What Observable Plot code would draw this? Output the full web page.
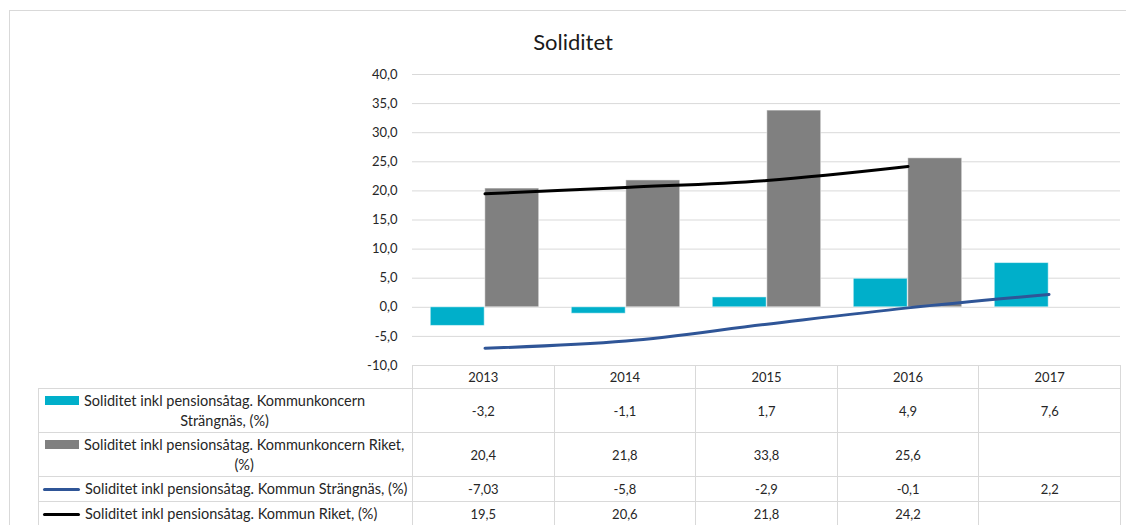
<!DOCTYPE html>
<html>
<head>
<meta charset="utf-8">
<script src="https://cdn.jsdelivr.net/npm/d3@7"></script>
<script src="https://cdn.jsdelivr.net/npm/@observablehq/plot@0.6"></script>
<style>
  html, body { margin: 0; padding: 0; background: #fff; }
  body { width: 1126px; height: 525px; overflow: hidden; position: relative; font-family: Lato, "Open Sans", sans-serif; color: #262626; }
  #frame { position: absolute; left: 9px; top: 10px; width: 1140px; height: 540px; border: 1px solid #d9d9d9; box-sizing: border-box; }
  #title { position: absolute; left: 0; width: 1146px; top: 28px; text-align: center; font-size: 22px; line-height: 28px; color: #1a1a1a; }
  #chart { position: absolute; left: 0; top: 0; }
  #tbl { position: absolute; left: 38px; top: 365px; border-collapse: collapse; table-layout: fixed; font-size: 13px; color: #262626; }
  #tbl td { border: 1px solid #d9d9d9; padding: 0; text-align: center; vertical-align: middle; white-space: nowrap; }
  #tbl td.blank { border-top: none; border-left: none; }
  .lg { display: flex; align-items: flex-start; padding-left: 6px; }
  .sw { flex: none; }
  .txt { display: inline-block; text-align: center; line-height: 20px; margin-left: 5px; font-size: 14.5px; }
</style>
</head>
<body>
<div id="frame"></div>
<div id="title">Soliditet</div>
<div id="chart"></div>
<table id="tbl"></table>
<script>
// ---- data ----
const years = ["2013", "2014", "2015", "2016", "2017"];
const seriesLabels = [
  ["Soliditet inkl pensionsåtag. Kommunkoncern", "Strängnäs, (%)"],
  ["Soliditet inkl pensionsåtag. Kommunkoncern Riket,", "(%)"],
  ["Soliditet inkl pensionsåtag. Kommun Strängnäs, (%)"],
  ["Soliditet inkl pensionsåtag. Kommun Riket, (%)"]
];
const koncernStrangnas = [-3.2, -1.1, 1.7, 4.9, 7.6];
const koncernRiket = [20.4, 21.8, 33.8, 25.6, null];
const kommunStrangnas = [-7.03, -5.8, -2.9, -0.1, 2.2];
const kommunRiket = [19.5, 20.6, 21.8, 24.2, null];
const seriesKinds = ["bar", "bar", "line", "line"];
const seriesColors = ["#00AFCA", "#808080", "#2F5597", "#000000"];
const yTicks = [-10, -5, 0, 5, 10, 15, 20, 25, 30, 35, 40];

const allSeries = [koncernStrangnas, koncernRiket, kommunStrangnas, kommunRiket];
const toRows = (vals) => years.map((year, i) => ({year, value: vals[i]})).filter(d => d.value != null);

// ---- layout ----
const W = 1126, H = 370;
const mL = 412, mR = 6, mT = 74, mB = 5;
const bw = (W - mL - mR) / years.length;
const pad = bw * 0.115, barW = bw * 0.385;
const fmt = v => v.toFixed(1).replace(".", ",");

const chart = Plot.plot({
  width: W, height: H,
  marginLeft: mL, marginRight: mR, marginTop: mT, marginBottom: mB,
  style: {fontFamily: "Lato, 'Open Sans', sans-serif", fontSize: "13px", color: "#262626", background: "transparent", overflow: "visible"},
  x: {type: "band", domain: years, padding: 0, axis: null},
  y: {domain: [-10, 40], ticks: yTicks, tickFormat: fmt, tickSize: 0, tickPadding: 15, label: null},
  marks: [
    Plot.ruleY(yTicks, {stroke: "#d9d9d9", strokeWidth: 1}),
    Plot.barY(toRows(koncernStrangnas), {x: "year", y: "value", fill: seriesColors[0], stroke: "#ffffff", strokeOpacity: 0.5, insetLeft: pad, insetRight: bw - pad - barW}),
    Plot.barY(toRows(koncernRiket), {x: "year", y: "value", fill: seriesColors[1], stroke: "#ffffff", strokeOpacity: 0.5, insetLeft: pad + barW, insetRight: pad}),
    Plot.line(toRows(kommunStrangnas), {x: "year", y: "value", stroke: seriesColors[2], strokeWidth: 3, curve: "catmull-rom"}),
    Plot.line(toRows(kommunRiket), {x: "year", y: "value", stroke: seriesColors[3], strokeWidth: 3, curve: "catmull-rom"})
  ]
});
document.getElementById("chart").appendChild(chart);

// ---- data table ----
const tbl = document.getElementById("tbl");
const colW = [374].concat(years.map(() => bw));
const cg = document.createElement("colgroup");
colW.forEach(w => { const c = document.createElement("col"); c.style.width = w + "px"; cg.appendChild(c); });
tbl.appendChild(cg);
const head = document.createElement("tr");
head.style.height = "23px";
head.innerHTML = `<td class="blank"></td>` + years.map(y => `<td>${y}</td>`).join("");
tbl.appendChild(head);
const rowH = [44, 44, 25, 25];
allSeries.forEach((vals, s) => {
  const tr = document.createElement("tr");
  tr.style.height = rowH[s] + "px";
  const isBar = seriesKinds[s] === "bar";
  const sw = isBar
    ? `<span class="sw" style="width:34px;height:9px;margin-top:5.5px;background:${seriesColors[s]}"></span>`
    : `<span class="sw" style="width:37px;height:3px;margin-top:8.5px;margin-left:-2px;border-radius:1.5px;background:${seriesColors[s]}"></span>`;
  const legend = `<td style="text-align:left"><div class="lg">${sw}<span class="txt">${seriesLabels[s].join("<br>")}</span></div></td>`;
  tr.innerHTML = legend + vals.map(v => `<td>${v == null ? "" : String(v).replace(".", ",")}</td>`).join("");
  tbl.appendChild(tr);
});
</script>
</body>
</html>
